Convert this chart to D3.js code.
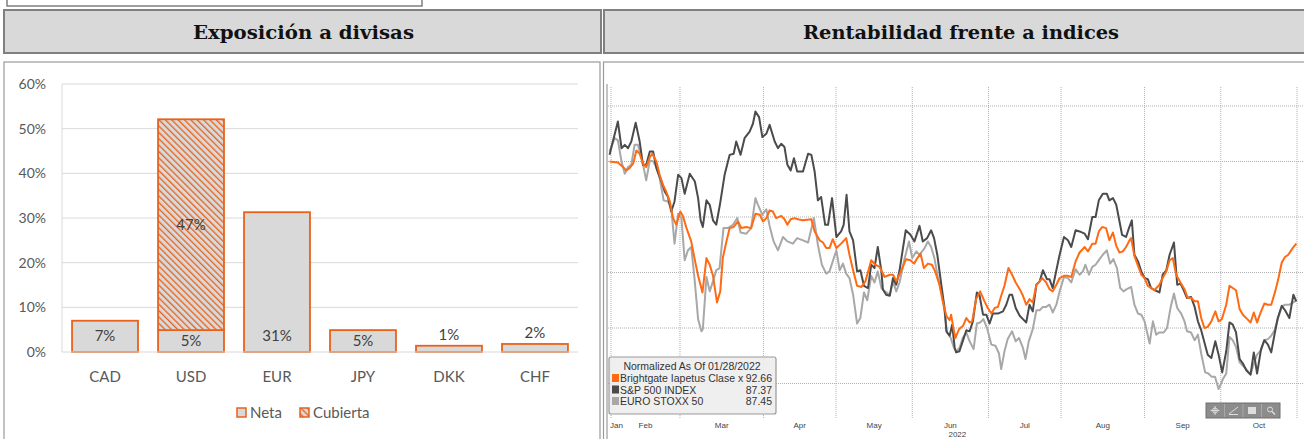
<!DOCTYPE html>
<html>
<head>
<meta charset="utf-8">
<script src="https://cdn.jsdelivr.net/npm/d3@7/dist/d3.min.js"></script>
<style>
  body { margin: 0; background: #fff; }
  svg { display: block; }
</style>
</head>
<body>
<div class="graph"></div>
<script>
// ---- left chart data ----
const currencies = ['CAD', 'USD', 'EUR', 'JPY', 'DKK', 'CHF'];
const neta = [0.070, 0.049, 0.313, 0.049, 0.014, 0.018];
const cubierta = [0, 0.472, 0, 0, 0, 0];
const pctTicks = [0, 0.1, 0.2, 0.3, 0.4, 0.5, 0.6];
const legendNames = ['Neta', 'Cubierta'];

// ---- right chart data: [trading day since 28 Jan 2022, normalized value] ----
const months = ['Jan', 'Feb', 'Mar', 'Apr', 'May', 'Jun', 'Jul', 'Aug', 'Sep', 'Oct'];
const monthStarts = [0, 2, 21, 44, 64, 85, 106, 126, 149, 170, 191];
const valueTicks = [80, 85, 90, 95, 100, 105];
const seriesNames = ['Brightgate Iapetus Clase x', 'S&P 500 INDEX', 'EURO STOXX 50'];
const lastValues = ['92.66', '87.37', '87.45'];

const brightgate = [[1.6,100.0],[3.9,99.9],[5.3,99.5],[6.2,99.2],[7.1,99.4],[8.1,99.8],[9.0,101.0],[9.9,100.7],[10.8,99.8],[11.7,99.5],[12.7,100.4],[13.4,100.7],[14.5,100.0],[15.4,98.8],[16.3,97.9],[17.2,97.3],[18.2,96.4],[19.1,94.9],[20.0,94.3],[21.1,95.5],[21.8,95.1],[22.8,94.0],[24.1,92.8],[25.0,91.3],[26.0,89.7],[27.2,88.2],[28.3,91.3],[29.2,90.7],[30.1,89.7],[31.2,87.3],[32.1,88.3],[32.8,91.3],[33.8,92.8],[34.7,94.0],[35.8,94.1],[37.0,94.6],[37.9,94.0],[39.3,94.1],[40.6,94.0],[41.8,95.3],[43.0,95.2],[43.9,94.6],[44.8,94.9],[45.7,95.6],[46.6,95.5],[47.5,94.9],[48.9,95.1],[49.8,94.8],[50.6,94.3],[51.5,94.8],[52.6,94.9],[53.5,94.8],[54.9,94.7],[57.2,94.8],[58.1,93.7],[59.5,92.9],[60.4,92.7],[61.3,92.2],[62.2,92.2],[63.1,93.0],[64.1,92.2],[65.4,92.6],[66.8,93.1],[67.7,91.6],[68.7,90.2],[69.8,88.8],[71.0,88.7],[72.1,89.2],[73.7,91.1],[74.8,90.7],[76.0,90.5],[77.4,89.6],[78.8,89.8],[79.7,89.8],[80.6,89.2],[82.0,90.2],[83.3,91.2],[84.5,91.1],[85.5,90.8],[86.4,91.3],[87.3,91.7],[88.2,90.4],[89.3,90.8],[90.4,90.7],[91.3,90.1],[92.5,88.9],[93.4,87.4],[94.4,86.1],[95.3,85.7],[95.7,86.2],[96.5,84.7],[96.9,84.1],[97.9,84.9],[99.0,85.2],[99.9,85.9],[100.8,85.5],[101.5,85.6],[102.6,87.6],[103.7,88.3],[104.9,87.4],[105.8,86.8],[106.8,86.3],[107.7,86.8],[108.6,86.9],[109.5,87.9],[110.4,88.8],[111.5,90.4],[112.5,89.8],[113.5,89.1],[114.6,88.5],[115.5,87.9],[116.4,87.1],[117.3,87.6],[118.2,87.3],[119.2,88.9],[120.1,89.2],[120.8,89.5],[121.9,89.1],[122.8,88.5],[123.7,88.3],[124.7,88.9],[125.6,89.5],[126.8,89.7],[127.9,89.7],[128.8,89.6],[130.0,91.0],[131.1,91.8],[132.5,92.3],[133.4,91.9],[134.6,92.6],[135.5,92.6],[136.4,93.7],[137.3,94.1],[138.4,94.0],[139.3,92.9],[140.3,93.6],[141.2,92.4],[142.1,91.8],[143.0,91.9],[143.9,92.3],[144.7,92.8],[145.3,93.1],[146.2,91.5],[147.2,90.6],[148.1,89.8],[149.0,89.5],[149.9,88.8],[150.8,88.6],[151.7,88.4],[153.1,88.9],[154.0,89.5],[155.0,90.1],[155.9,91.1],[156.8,91.3],[157.7,89.8],[158.9,89.1],[160.0,88.5],[160.9,87.7],[161.8,87.7],[162.8,87.4],[163.7,87.4],[164.6,85.9],[165.5,85.0],[166.4,85.1],[167.4,85.6],[168.5,86.5],[169.4,85.6],[170.3,85.8],[171.5,87.1],[172.4,88.8],[173.3,88.6],[174.2,88.4],[175.2,86.7],[176.1,86.2],[177.3,85.8],[178.2,85.5],[179.1,86.4],[180.0,85.5],[181.1,86.5],[182.0,87.2],[183.0,87.1],[183.9,87.1],[185.0,88.3],[185.9,89.5],[186.8,90.9],[187.7,91.4],[188.6,91.6],[189.8,92.2],[190.8,92.6]];

const sp500 = [[1.6,100.6],[3.9,103.6],[4.9,101.2],[5.8,101.5],[6.7,101.2],[7.6,101.8],[8.8,103.5],[9.9,101.8],[10.8,99.7],[11.7,99.7],[12.7,100.9],[13.6,100.9],[14.5,99.4],[15.9,98.2],[16.8,97.3],[17.7,96.8],[18.6,95.5],[19.5,96.4],[20.5,98.8],[21.4,98.5],[22.3,97.1],[23.7,98.9],[25.1,98.2],[26.0,96.7],[26.7,94.7],[27.3,94.1],[28.3,96.5],[29.2,96.1],[30.1,94.7],[31.0,94.3],[32.0,96.1],[33.3,98.8],[34.7,100.6],[35.8,100.7],[36.5,101.8],[37.7,100.6],[38.8,102.1],[40.2,102.7],[41.1,103.4],[41.8,104.5],[42.8,104.0],[43.7,102.2],[44.8,102.5],[45.7,103.3],[47.1,101.8],[48.0,101.2],[48.9,101.6],[49.8,101.3],[50.6,99.7],[51.5,99.2],[52.4,100.3],[53.3,99.1],[54.9,99.1],[56.3,100.7],[57.2,100.6],[58.1,99.1],[59.0,96.5],[59.9,96.8],[61.0,94.3],[61.8,94.3],[62.9,96.7],[64.1,93.2],[65.4,93.7],[66.1,94.3],[66.9,97.0],[67.7,93.7],[68.7,92.9],[69.8,90.1],[70.7,90.2],[71.7,88.8],[72.8,88.6],[73.7,90.7],[74.6,90.4],[75.5,92.3],[76.5,90.1],[76.9,88.5],[77.8,88.0],[78.8,87.9],[79.7,89.5],[80.6,88.9],[81.5,90.2],[83.2,93.8],[84.5,93.4],[85.6,92.8],[87.0,94.2],[87.9,92.8],[89.1,93.1],[90.2,93.8],[91.0,93.1],[91.9,91.6],[93.0,88.9],[93.9,86.8],[94.4,84.7],[95.3,84.3],[96.0,85.3],[96.7,83.2],[97.1,82.8],[98.0,82.9],[98.9,83.8],[99.9,84.8],[100.8,84.7],[101.7,85.6],[102.8,88.2],[103.5,88.0],[104.5,86.2],[105.4,86.2],[106.3,85.4],[107.2,86.3],[108.6,86.3],[110.0,86.5],[110.9,87.1],[111.8,88.0],[112.5,88.0],[113.5,86.8],[114.6,86.1],[115.5,85.8],[116.4,85.5],[117.3,87.1],[118.2,86.5],[119.2,88.9],[120.1,89.2],[121.0,90.2],[122.1,89.4],[122.8,89.4],[123.7,88.6],[124.7,90.2],[125.6,91.6],[126.8,93.2],[127.9,92.9],[128.8,92.3],[130.0,93.8],[131.1,93.7],[132.5,93.5],[133.4,93.0],[134.6,95.0],[135.5,95.0],[136.4,96.5],[137.5,97.1],[138.6,97.1],[139.3,96.5],[140.3,96.7],[141.2,96.1],[142.1,94.6],[142.8,93.4],[143.9,93.2],[144.7,94.0],[145.5,94.7],[146.2,91.6],[147.2,91.0],[148.1,90.1],[149.0,89.5],[149.9,89.4],[150.8,88.6],[151.9,88.4],[153.1,88.2],[154.0,89.8],[155.0,90.2],[155.9,91.6],[157.1,92.7],[158.0,88.9],[158.9,89.0],[159.8,88.4],[160.7,87.7],[161.8,87.8],[162.8,86.9],[163.7,85.6],[164.6,84.8],[165.5,83.7],[166.4,82.6],[167.4,82.3],[168.5,83.8],[169.4,82.6],[170.4,81.0],[171.5,82.9],[172.4,85.5],[173.3,85.3],[174.2,84.6],[175.2,82.2],[176.1,81.8],[177.0,81.2],[178.2,80.8],[179.1,82.8],[180.0,80.9],[181.1,83.1],[182.0,83.9],[183.0,83.5],[183.9,82.8],[184.8,84.4],[185.7,85.9],[186.8,87.0],[187.7,86.6],[188.9,85.9],[190.0,88.0],[190.8,87.4]];

const eurostoxx = [[1.6,100.9],[3.0,102.1],[3.9,101.9],[4.9,100.0],[5.8,98.9],[6.7,99.5],[7.6,99.7],[8.5,101.5],[9.4,101.5],[10.6,100.1],[11.7,98.3],[12.7,100.1],[13.6,100.0],[14.5,99.5],[15.4,98.5],[16.5,96.5],[17.7,96.4],[18.6,95.8],[19.5,92.6],[20.5,95.3],[21.4,94.9],[22.3,91.1],[23.2,92.0],[24.1,92.3],[25.0,89.5],[26.0,85.8],[26.9,84.7],[27.3,84.9],[28.3,89.6],[29.2,88.3],[30.1,89.2],[31.0,90.2],[31.9,90.4],[33.0,94.0],[34.2,94.0],[35.6,94.3],[36.8,94.9],[37.7,93.6],[39.3,93.5],[40.6,94.0],[41.8,96.7],[42.5,96.1],[43.7,95.2],[44.8,95.7],[45.7,94.2],[46.8,92.8],[48.0,92.0],[49.4,93.2],[50.6,92.8],[52.1,92.6],[53.3,93.1],[54.9,92.9],[56.3,92.7],[57.9,94.9],[59.0,92.5],[60.1,90.7],[61.3,89.9],[62.2,90.1],[63.1,91.0],[64.1,92.0],[65.0,90.2],[65.9,90.8],[66.8,89.9],[67.7,89.5],[68.7,88.0],[69.8,85.4],[70.7,85.9],[71.7,88.2],[72.6,87.5],[73.7,89.7],[74.6,89.1],[75.5,90.1],[76.5,88.6],[77.4,88.3],[78.8,88.0],[79.7,89.2],[80.6,88.3],[81.5,89.1],[82.7,91.0],[84.1,92.8],[85.0,91.3],[86.1,91.9],[87.0,91.6],[88.4,92.2],[89.3,92.8],[90.2,92.3],[91.1,91.3],[92.1,89.5],[93.0,88.3],[93.9,86.5],[94.6,84.6],[95.6,84.1],[96.5,83.2],[97.1,82.9],[98.0,83.2],[98.9,84.1],[99.9,84.6],[100.8,83.8],[101.9,83.1],[102.8,85.4],[103.7,85.5],[104.6,85.8],[105.6,85.0],[106.8,83.5],[107.9,83.4],[108.9,82.7],[109.5,81.3],[110.4,82.9],[111.3,84.0],[112.5,84.7],[113.5,83.8],[114.4,84.1],[115.5,83.2],[116.2,82.2],[117.1,83.8],[118.2,84.9],[119.2,86.6],[120.1,86.6],[121.0,86.9],[121.9,86.9],[122.8,87.1],[123.7,86.4],[124.7,87.1],[125.6,88.3],[126.8,89.6],[127.9,89.5],[128.8,89.1],[130.0,90.3],[131.1,89.8],[132.0,90.1],[132.7,90.7],[133.7,89.8],[134.6,90.5],[135.5,90.7],[136.6,91.2],[137.5,91.6],[138.6,92.0],[139.5,90.8],[140.4,91.2],[141.4,90.4],[142.3,88.6],[143.2,88.3],[144.1,88.5],[145.3,88.7],[146.2,87.1],[147.2,86.3],[148.1,86.2],[149.0,85.6],[150.4,83.6],[151.3,85.6],[152.2,84.4],[153.1,84.6],[154.3,84.6],[155.2,85.0],[156.2,86.9],[157.1,88.1],[158.0,86.8],[159.1,86.3],[160.0,85.6],[160.7,84.7],[161.8,84.6],[162.8,83.9],[163.7,84.4],[164.6,82.7],[165.7,81.0],[166.6,80.9],[167.5,80.6],[168.4,80.6],[169.4,79.5],[170.6,80.4],[171.5,80.9],[172.4,84.2],[173.3,83.9],[174.2,83.3],[175.2,81.9],[176.1,81.6],[177.0,81.3],[178.2,80.8],[179.1,81.8],[180.0,82.6],[181.1,83.0],[182.0,83.9],[183.0,84.0],[183.9,84.3],[184.8,84.8],[185.7,85.8],[186.8,86.9],[187.7,87.1],[188.9,87.1],[190.0,87.3],[190.8,87.5]];

const W = 1304;
const H = 439;
const ORANGE = '#e8621c';
const LINE_COLORS = ['#ff6a13', '#4b4b4b', '#a8a8a8'];
const pct = d3.format('.0%');

const svg = d3.select('.graph')
  .append('svg')
  .attr('width', W)
  .attr('height', H);

svg.append('rect').attr('width', W).attr('height', H).attr('fill', '#fff');

// hatch pattern for the hedged part (downward diagonal)
const defs = svg.append('defs');
const hatch = defs.append('pattern')
  .attr('id', 'hatch')
  .attr('patternUnits', 'userSpaceOnUse')
  .attr('width', 4.5)
  .attr('height', 4.5)
  .attr('patternTransform', 'rotate(-45)');
hatch.append('rect').attr('width', 4.5).attr('height', 4.5).attr('fill', '#d9d9d9');
hatch.append('rect').attr('x', 0).attr('width', 1.3).attr('height', 4.5).attr('fill', ORANGE);

// ---- frames and headers ----
svg.append('rect')
  .attr('x', 7).attr('y', -4).attr('width', 415).attr('height', 10)
  .attr('fill', '#fff').attr('stroke', '#7f7f7f').attr('stroke-width', 1.5);

const headers = [
  { x: 4, w: 597, text: 'Exposición a divisas', len: 221 },
  { x: 604, w: 704, text: 'Rentabilidad frente a indices', len: 316 }
];
headers.forEach((hd, i) => {
  svg.append('rect')
    .attr('x', hd.x).attr('y', 10).attr('width', hd.w).attr('height', 43)
    .attr('fill', '#d9d9d9').attr('stroke', '#808080').attr('stroke-width', 2);
  svg.append('text')
    .attr('x', i === 0 ? 303.5 : 961)
    .attr('y', 39)
    .attr('text-anchor', 'middle')
    .attr('font-family', 'DejaVu Serif, Liberation Serif, serif')
    .attr('font-weight', 'bold')
    .attr('font-size', 19)
    .attr('textLength', hd.len)
    .attr('lengthAdjust', 'spacingAndGlyphs')
    .attr('fill', '#111')
    .text(hd.text);
});

svg.append('rect')
  .attr('x', 4).attr('y', 62).attr('width', 596).attr('height', 390)
  .attr('fill', '#fff').attr('stroke', '#9a9a9a').attr('stroke-width', 1.2);
svg.append('rect')
  .attr('x', 603.5).attr('y', 62).attr('width', 710).attr('height', 390)
  .attr('fill', '#fff').attr('stroke', '#9a9a9a').attr('stroke-width', 1.2);

// ---- left chart: currency exposure ----
const xScale = d3.scaleBand()
  .domain(currencies)
  .range([62, 578])
  .paddingInner(0.233)
  .paddingOuter(0.117);
const yScale = d3.scaleLinear()
  .domain([0, 0.6])
  .range([352, 84]);

const left = svg.append('g').attr('font-family', 'Lato, Open Sans, sans-serif');

left.append('g')
  .selectAll('line')
  .data(pctTicks.slice(1))
  .join('line')
  .attr('x1', 62).attr('x2', 578)
  .attr('y1', (d) => yScale(d)).attr('y2', (d) => yScale(d))
  .attr('stroke', '#d9d9d9').attr('stroke-width', 1);

left.append('line')
  .attr('x1', 62).attr('x2', 62)
  .attr('y1', yScale(0.6)).attr('y2', yScale(0))
  .attr('stroke', '#d9d9d9');

left.append('g')
  .selectAll('text')
  .data(pctTicks)
  .join('text')
  .attr('x', 46)
  .attr('y', (d) => yScale(d) + 5)
  .attr('text-anchor', 'end')
  .attr('font-size', 14)
  .attr('fill', '#595959')
  .text((d) => pct(d));

const bars = currencies.map((c, i) => ({ c, neta: neta[i], cub: cubierta[i] }));

left.append('g')
  .selectAll('rect')
  .data(bars)
  .join('rect')
  .attr('x', (d) => xScale(d.c))
  .attr('y', (d) => yScale(d.neta))
  .attr('width', xScale.bandwidth())
  .attr('height', (d) => yScale(0) - yScale(d.neta))
  .attr('fill', '#d9d9d9')
  .attr('stroke', ORANGE)
  .attr('stroke-width', 1.8);

left.append('g')
  .selectAll('rect')
  .data(bars.filter((d) => d.cub > 0))
  .join('rect')
  .attr('x', (d) => xScale(d.c))
  .attr('y', (d) => yScale(d.neta + d.cub))
  .attr('width', xScale.bandwidth())
  .attr('height', (d) => yScale(d.neta) - yScale(d.neta + d.cub))
  .attr('fill', 'url(#hatch)')
  .attr('stroke', ORANGE)
  .attr('stroke-width', 1.8);

left.append('line')
  .attr('x1', 62).attr('x2', 578)
  .attr('y1', yScale(0)).attr('y2', yScale(0))
  .attr('stroke', '#d9d9d9').attr('stroke-width', 1.2);

// value labels
left.append('g')
  .selectAll('text')
  .data(bars)
  .join('text')
  .attr('x', (d) => xScale(d.c) + xScale.bandwidth() / 2)
  .attr('y', (d) => (d.neta < 0.03 ? yScale(d.neta) - 6 : yScale(Math.min(d.neta, 0.07) / 2) + 5))
  .attr('text-anchor', 'middle')
  .attr('font-size', 15)
  .attr('fill', '#404040')
  .text((d) => pct(d.neta));

left.append('g')
  .selectAll('text')
  .data(bars.filter((d) => d.cub > 0))
  .join('text')
  .attr('x', (d) => xScale(d.c) + xScale.bandwidth() / 2)
  .attr('y', (d) => yScale(d.neta + d.cub / 2) + 5)
  .attr('text-anchor', 'middle')
  .attr('font-size', 15)
  .attr('fill', '#404040')
  .text((d) => pct(d.cub));

left.append('g')
  .selectAll('text')
  .data(currencies)
  .join('text')
  .attr('x', (d) => xScale(d) + xScale.bandwidth() / 2)
  .attr('y', 382)
  .attr('text-anchor', 'middle')
  .attr('font-size', 15)
  .attr('fill', '#595959')
  .text((d) => d);

// legend
const legX = [237, 300];
legendNames.forEach((name, i) => {
  left.append('rect')
    .attr('x', legX[i]).attr('y', 408).attr('width', 9).attr('height', 9)
    .attr('fill', i === 0 ? '#d9d9d9' : 'url(#hatch)')
    .attr('stroke', ORANGE).attr('stroke-width', 1.5);
  left.append('text')
    .attr('x', legX[i] + 13).attr('y', 418)
    .attr('font-size', 15)
    .attr('fill', '#595959')
    .text(name);
});

// ---- right chart: performance vs indices ----
const xDay = d3.scaleLinear().domain([2, 191]).range([611, 1297]);
const yVal = d3.scaleLinear().domain([80, 105]).range([383.5, 106]);

const right = svg.append('g').attr('font-family', 'Liberation Sans, Arial, sans-serif');

right.append('line')
  .attr('x1', 607).attr('x2', 607).attr('y1', 84).attr('y2', 439)
  .attr('stroke', '#9a9a9a').attr('stroke-width', 1.2);

right.append('g')
  .selectAll('line')
  .data(valueTicks)
  .join('line')
  .attr('x1', 608).attr('x2', 1304)
  .attr('y1', (d) => yVal(d)).attr('y2', (d) => yVal(d))
  .attr('stroke', '#b0b0b0').attr('stroke-dasharray', '1,1');

right.append('g')
  .selectAll('line')
  .data(monthStarts.slice(1))
  .join('line')
  .attr('x1', (d) => xDay(d)).attr('x2', (d) => xDay(d))
  .attr('y1', 87).attr('y2', 418)
  .attr('stroke', '#b0b0b0').attr('stroke-dasharray', '1,1');

const line = d3.line()
  .x((d) => xDay(d[0]))
  .y((d) => yVal(d[1]));

[eurostoxx, sp500, brightgate].forEach((s, i) => {
  right.append('path')
    .datum(s)
    .attr('d', line)
    .attr('fill', 'none')
    .attr('stroke', LINE_COLORS[2 - i])
    .attr('stroke-width', 2)
    .attr('stroke-linejoin', 'round');
});

// month labels
right.append('g')
  .selectAll('text')
  .data(months)
  .join('text')
  .attr('x', (d, i) => (i === 0 ? 610 : xDay((monthStarts[i] + monthStarts[i + 1]) / 2)))
  .attr('y', 428)
  .attr('text-anchor', (d, i) => (i === 0 ? 'start' : 'middle'))
  .attr('font-size', 8)
  .attr('fill', '#444')
  .text((d) => d);

right.append('text')
  .attr('x', xDay((monthStarts[5] + monthStarts[6]) / 2) + 7)
  .attr('y', 437)
  .attr('text-anchor', 'middle')
  .attr('font-size', 8)
  .attr('fill', '#444')
  .text('2022');

// legend box
const lg = right.append('g');
lg.append('rect')
  .attr('x', 609).attr('y', 357).attr('width', 167).attr('height', 57)
  .attr('rx', 2)
  .attr('fill', '#eeeeee').attr('fill-opacity', 0.92)
  .attr('stroke', '#999').attr('stroke-width', 1.2);
lg.append('text')
  .attr('x', 692).attr('y', 370)
  .attr('text-anchor', 'middle')
  .attr('font-size', 10.5)
  .attr('fill', '#333')
  .text('Normalized As Of 01/28/2022');
seriesNames.forEach((name, i) => {
  const yy = 382 + i * 11.5;
  lg.append('rect')
    .attr('x', 612).attr('y', yy - 8).attr('width', 7).attr('height', 8)
    .attr('fill', LINE_COLORS[i]);
  lg.append('text')
    .attr('x', 620).attr('y', yy)
    .attr('font-size', 10.5)
    .attr('fill', '#333')
    .text(name);
  lg.append('text')
    .attr('x', 772).attr('y', yy)
    .attr('text-anchor', 'end')
    .attr('font-size', 10.5)
    .attr('fill', '#333')
    .text(lastValues[i]);
});

// chart toolbar
const tb = right.append('g').attr('transform', 'translate(1206,403)');
tb.append('rect').attr('width', 74).attr('height', 15)
  .attr('fill', '#8c8c8c').attr('stroke', '#707070');
[18.5, 37, 55.5].forEach((x) => {
  tb.append('line').attr('x1', x).attr('x2', x).attr('y1', 1).attr('y2', 14)
    .attr('stroke', '#a8a8a8');
});
tb.append('circle').attr('cx', 9).attr('cy', 7.5).attr('r', 2.5)
  .attr('fill', 'none').attr('stroke', '#ddd');
tb.append('path').attr('d', 'M9,3V12M4.5,7.5H13.5').attr('stroke', '#ddd');
tb.append('path').attr('d', 'M23,11L32,4M23,11.5H32').attr('stroke', '#ddd');
tb.append('rect').attr('x', 42).attr('y', 4).attr('width', 8).attr('height', 7).attr('fill', '#ddd');
tb.append('circle').attr('cx', 64).attr('cy', 6.5).attr('r', 2.5)
  .attr('fill', 'none').attr('stroke', '#ddd');
tb.append('path').attr('d', 'M66,8.5L69,11.5').attr('stroke', '#ddd').attr('stroke-width', 1.5);
</script>
</body>
</html>
